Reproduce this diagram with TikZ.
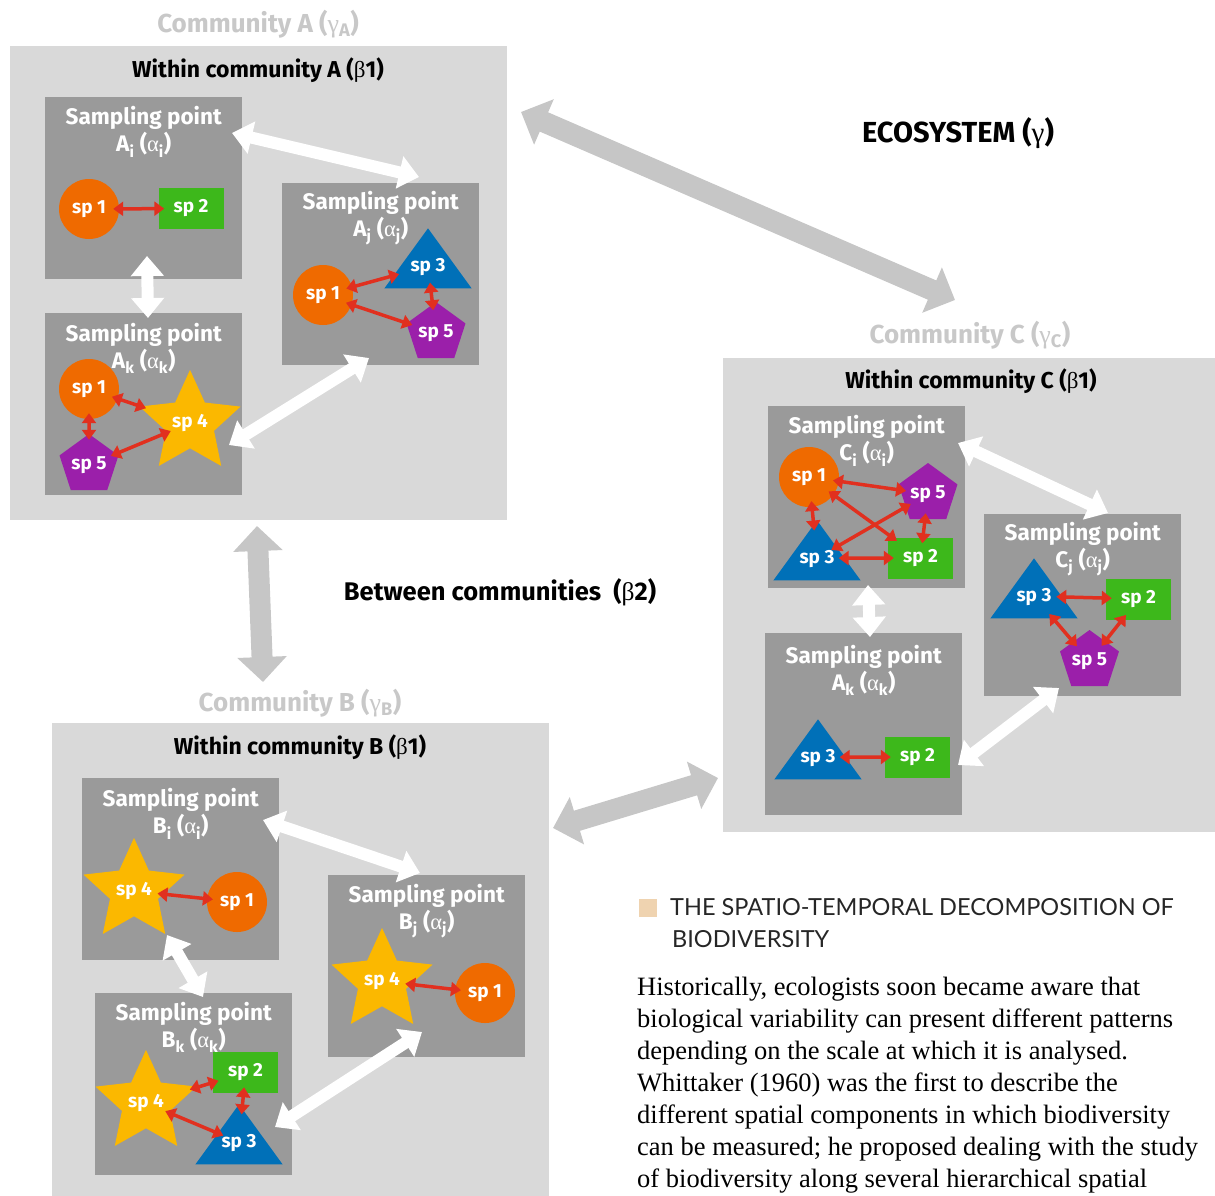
\documentclass[tikz,border=0pt]{standalone}
\usepackage{fontspec}
\setmainfont{Fira Sans}
\newfontfamily\grk{Liberation Serif}
\newfontfamily\bodyserif{Liberation Serif}
\newfontfamily\capsans{Lato}
\usetikzlibrary{shapes.geometric,arrows.meta,calc,positioning}

\definecolor{combg}{HTML}{D9D9D9}
\definecolor{sampbg}{HTML}{9A9A9A}
\definecolor{comtxt}{HTML}{C8C8C8}
\definecolor{bigarr}{HTML}{C6C6C6}
\definecolor{sporange}{HTML}{EF6A00}
\definecolor{spgreen}{HTML}{3DB81B}
\definecolor{spblue}{HTML}{0070B8}
\definecolor{sppurple}{HTML}{9B1FAA}
\definecolor{spyellow}{HTML}{FBB800}
\definecolor{linkred}{HTML}{E1301F}
\definecolor{legendsq}{HTML}{EFD3B0}

\newcommand{\gk}[1]{{\grk\mdseries #1}}
\newcommand{\lowr}[1]{\textsubscript{#1}}

\tikzset{
  combox/.style={rectangle, fill=combg, minimum width=497pt, minimum height=474pt, inner sep=0pt, anchor=north west},
  sampbox/.style={rectangle, fill=sampbg, minimum width=197pt, minimum height=182pt, inner sep=0pt, anchor=north west},
  samptitle/.style={text=white, font=\fontsize{22.5}{27}\selectfont\bfseries, align=center, inner sep=0pt},
  comlabel/.style={text=comtxt, font=\fontsize{26}{30}\selectfont\bfseries},
  withinlabel/.style={font=\fontsize{23}{27}\selectfont\bfseries},
  sptext/.style={text=white, font=\fontsize{19}{21}\selectfont\bfseries, inner sep=0pt},
  spcirc/.style={sptext, circle, fill=sporange, minimum size=60pt},
  sprect/.style={sptext, rectangle, fill=spgreen, minimum width=65pt, minimum height=41pt},
  sppent/.style={sptext, regular polygon, regular polygon sides=5, fill=sppurple, minimum size=62pt},
  spstar/.style={sptext, star, star points=5, star point ratio=2.1, fill=spyellow, minimum size=82pt},
  sptri/.style={isosceles triangle, isosceles triangle apex angle=72, shape border rotate=90, fill=spblue, minimum width=60pt, minimum height=60pt, inner sep=0pt, anchor=apex},
  redlink/.style={draw=linkred, line width=3.5pt, {Triangle[width=14pt,length=10pt]}-{Triangle[width=14pt,length=10pt]}, shorten <=-6pt, shorten >=-6pt},
  whitelink/.style={draw=white, line width=12pt, {Triangle[width=32pt,length=20pt]}-{Triangle[width=32pt,length=20pt]}},
  graylink/.style={draw=bigarr, line width=21pt, {Triangle[width=48pt,length=25pt]}-{Triangle[width=48pt,length=25pt]}}
}

\begin{document}
\begin{tikzpicture}[x=1pt,y=-1pt]
\useasboundingbox (0,0) rectangle (1215,1195);

\node[combox] (comA) at (10,46) {}; \node[combox] (comC) at (723,358) {}; \node[combox] (comB) at (52,723) {};
\node[comlabel] (comAlab) at (258,24) {Community A (\gk{γ}\lowr{A})};
\node[comlabel] (comClab) at (970,335) {Community C (\gk{γ}\lowr{C})};
\node[comlabel] (comBlab) at (300,703) {Community B (\gk{γ}\lowr{B})};
\node[withinlabel] (withinA) at (258,70) {Within community A (\gk{β}1)};
\node[withinlabel] (withinC) at (971,381) {Within community C (\gk{β}1)};
\node[withinlabel] (withinB) at (300,747) {Within community B (\gk{β}1)};
\node[font=\fontsize{29}{33}\selectfont\bfseries] (eco) at (958,133) {ECOSYSTEM (\gk{γ})};
\node[font=\fontsize{25.5}{30}\selectfont\bfseries] (between) at (500,592) {Between communities\ \ (\gk{β}2)};

\node[sampbox] (Ai) at (45,97) {}; \node[sampbox] (Aj) at (282,183) {}; \node[sampbox] (Ak) at (45,313) {};
\node[sampbox] (Ci) at (768,406) {}; \node[sampbox] (Cj) at (984,514) {}; \node[sampbox] (Ck) at (765,633) {};
\node[sampbox] (Bi) at (82,778) {}; \node[sampbox] (Bj) at (328,875) {}; \node[sampbox] (Bk) at (95,993) {};

\node[samptitle] (Aitit) at ($(Ai.north)+(0,35)$) {Sampling point\\A\lowr{i} (\gk{α}\lowr{i})};
\node[samptitle] (Ajtit) at ($(Aj.north)+(0,35)$) {Sampling point\\A\lowr{j} (\gk{α}\lowr{j})};
\node[samptitle] (Aktit) at ($(Ak.north)+(0,35)$) {Sampling point\\A\lowr{k} (\gk{α}\lowr{k})};
\node[samptitle] (Citit) at ($(Ci.north)+(0,35)$) {Sampling point\\C\lowr{i} (\gk{α}\lowr{i})};
\node[samptitle] (Cjtit) at ($(Cj.north)+(0,35)$) {Sampling point\\C\lowr{j} (\gk{α}\lowr{j})};
\node[samptitle] (Cktit) at ($(Ck.north)+(0,37)$) {Sampling point\\A\lowr{k} (\gk{α}\lowr{k})};
\node[samptitle] (Bitit) at ($(Bi.north)+(0,36)$) {Sampling point\\B\lowr{i} (\gk{α}\lowr{i})};
\node[samptitle] (Bjtit) at ($(Bj.north)+(0,36)$) {Sampling point\\B\lowr{j} (\gk{α}\lowr{j})};
\node[samptitle] (Bktit) at ($(Bk.north)+(0,34)$) {Sampling point\\B\lowr{k} (\gk{α}\lowr{k})};

\coordinate (wA1) at (232,133); \coordinate (wA2) at (419,177); \coordinate (wA3) at (147,256); \coordinate (wA4) at (148,318);
\coordinate (wA5) at (229,445); \coordinate (wA6) at (369,358);
\coordinate (wC1) at (958,443); \coordinate (wC2) at (1108,513); \coordinate (wC3) at (868,585); \coordinate (wC4) at (870,637);
\coordinate (wC5) at (958,765); \coordinate (wC6) at (1059,688);
\coordinate (wB1) at (263,820); \coordinate (wB2) at (420,873); \coordinate (wB3) at (167,935); \coordinate (wB4) at (203,997);
\coordinate (wB5) at (275,1127); \coordinate (wB6) at (422,1032);
\draw[whitelink] (wA1) to (wA2); \draw[whitelink] (wA3) to (wA4); \draw[whitelink] (wA5) to (wA6);
\draw[whitelink] (wC1) to (wC2); \draw[whitelink] (wC3) to (wC4); \draw[whitelink] (wC5) to (wC6);
\draw[whitelink] (wB1) to (wB2); \draw[whitelink] (wB3) to (wB4); \draw[whitelink] (wB5) to (wB6);

\coordinate (gAC1) at (521,112); \coordinate (gAC2) at (955,300); \coordinate (gAB1) at (257,526); \coordinate (gAB2) at (263,682);
\coordinate (gBC1) at (553,828); \coordinate (gBC2) at (718,778);
\draw[graylink] (gAC1) to (gAC2); \draw[graylink] (gAB1) to (gAB2); \draw[graylink] (gBC1) to (gBC2);

\node[spcirc] (Ai1) at (89,209) {sp 1}; \node[sprect] (Ai2) at (191,208.5) {sp 2};
\node[spcirc] (Ak1) at (89,389) {sp 1}; \node[spstar] (Ak4) at (190,423) {sp 4}; \node[sppent] (Ak5) at (89,465) {sp 5};
\node[spcirc] (Aj1) at (323,295) {sp 1}; \node[sptri] (Aj3) at (428,228) {}; \node[sppent] (Aj5) at (436,333) {sp 5};
\node[sptext] (Aj3t) at ($(Aj3.apex)!0.64!(Aj3.lower side)$) {sp 3};

\node[spcirc] (Ci1) at (809,477) {sp 1}; \node[sppent] (Ci5) at (928,494) {sp 5};
\node[sptri] (Ci3) at (817,520) {}; \node[sprect] (Ci2) at (920.5,558) {sp 2};
\node[sptext] (Ci3t) at ($(Ci3.apex)!0.64!(Ci3.lower side)$) {sp 3};
\node[sptri] (Cj3) at (1034,558) {}; \node[sprect] (Cj2) at (1138.5,599) {sp 2}; \node[sppent] (Cj5) at (1089.5,661) {sp 5};
\node[sptext] (Cj3t) at ($(Cj3.apex)!0.64!(Cj3.lower side)$) {sp 3};
\node[sptri] (Ck3) at (818,719) {}; \node[sprect] (Ck2) at (917.5,757) {sp 2};
\node[sptext] (Ck3t) at ($(Ck3.apex)!0.64!(Ck3.lower side)$) {sp 3};

\node[spstar] (Bi4) at (134,891) {sp 4}; \node[spcirc] (Bi1) at (237,902) {sp 1};
\node[sprect] (Bk2) at (245.5,1072.5) {sp 2}; \node[spstar] (Bk4) at (146,1103) {sp 4}; \node[sptri] (Bk3) at (239,1104) {};
\node[sptext] (Bk3t) at ($(Bk3.apex)!0.64!(Bk3.lower side)$) {sp 3};
\node[spstar] (Bj4) at (382,981) {sp 4}; \node[spcirc] (Bj1) at (485,993) {sp 1};

\draw[redlink] (Ai1) to (Ai2);
\draw[redlink] (Ak1) to (Ak4); \draw[redlink] (Ak1) to (Ak5); \draw[redlink] (Ak5) to (Ak4);
\draw[redlink] (Aj1) to (Aj3); \draw[redlink] (Aj1) to (Aj5); \draw[redlink] (Aj3) to (Aj5);
\draw[redlink] (Ci1) to (Ci5); \draw[redlink] (Ci1) to (Ci2); \draw[redlink] (Ci5) to (Ci3);
\draw[redlink] (Ci1) to (Ci3); \draw[redlink] (Ci5) to (Ci2); \draw[redlink] (Ci3) to (Ci2);
\draw[redlink] (Cj3) to (Cj2); \draw[redlink] (Cj3) to (Cj5); \draw[redlink] (Cj2) to (Cj5);
\draw[redlink] (Ck3) to (Ck2);
\draw[redlink] (Bi4) to (Bi1);
\draw[redlink] (Bk4) to (Bk2); \draw[redlink] (Bk4) to (Bk3); \draw[redlink] (Bk2) to (Bk3);
\draw[redlink] (Bj4) to (Bj1);

\node[rectangle, fill=legendsq, minimum size=18pt, inner sep=0pt] (legsq) at (648,907.5) {};
\node[anchor=north west, inner sep=0pt, align=left, text=black!85, font=\capsans\fontsize{23.5}{32}\selectfont] (legtitle) at (670,898) {THE SPATIO-TEMPORAL DECOMPOSITION OF\\\hspace{2pt}BIODIVERSITY};
\node[anchor=north west, inner sep=0pt, align=left, font=\bodyserif\fontsize{26.5}{32}\selectfont] (bodytext) at (637,977) {Historically, ecologists soon became aware that\\biological variability can present different patterns\\depending on the scale at which it is analysed.\\Whittaker (1960) was the first to describe the\\different spatial components in which biodiversity\\can be measured; he proposed dealing with the study\\of biodiversity along several hierarchical spatial};
\end{tikzpicture}
\end{document}
